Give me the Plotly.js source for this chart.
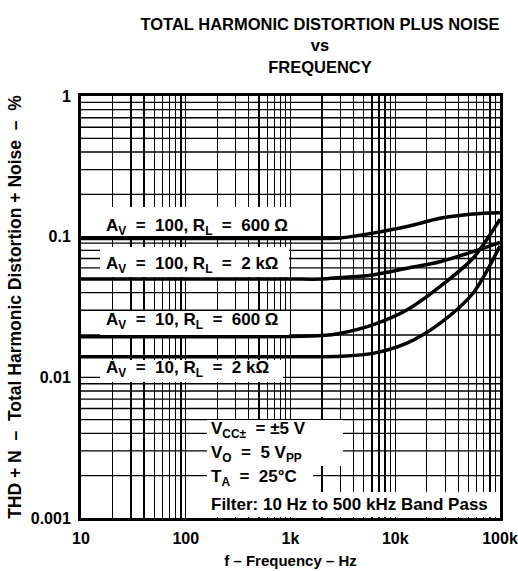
<!DOCTYPE html>
<html>
<head>
<meta charset="utf-8">
<script src="https://cdn.plot.ly/plotly-3.0.1.min.js"></script>
<style>html,body{margin:0;padding:0;background:#fff;}</style>
</head>
<body>
<div id="chart" style="width:518px;height:571px;"></div>
<script>
// Frequency (Hz)
const freq = [10, 100, 1000, 2000, 3000, 6100, 12900, 26700, 55200, 100000];
// THD+N (%) for each condition
const av100_rl600 = [0.097, 0.097, 0.097, 0.097, 0.098, 0.106, 0.118, 0.135, 0.145, 0.148];
const av100_rl2k  = [0.050, 0.050, 0.050, 0.050, 0.0512, 0.0534, 0.0596, 0.0664, 0.0782, 0.091];
const av10_rl600  = [0.0194, 0.0194, 0.0195, 0.0198, 0.0206, 0.0236, 0.0301, 0.0441, 0.0702, 0.133];
const av10_rl2k   = [0.0140, 0.0140, 0.0140, 0.0140, 0.0141, 0.0148, 0.0175, 0.0242, 0.0396, 0.086];

const seriesNames = ['AV = 100, RL = 600 Ω', 'AV = 100, RL = 2 kΩ', 'AV = 10, RL = 600 Ω', 'AV = 10, RL = 2 kΩ'];
const seriesValues = [av100_rl600, av100_rl2k, av10_rl600, av10_rl2k];

// Grid / tick positions (every 1..9 of each decade), labels only at decades
const xTickVals = [10, 20, 30, 40, 50, 60, 70, 80, 90,
  100, 200, 300, 400, 500, 600, 700, 800, 900,
  1000, 2000, 3000, 4000, 5000, 6000, 7000, 8000, 9000,
  10000, 20000, 30000, 40000, 50000, 60000, 70000, 80000, 90000, 100000];
const xTickText = ['10', '', '', '', '', '', '', '', '',
  '100', '', '', '', '', '', '', '', '',
  '1k', '', '', '', '', '', '', '', '',
  '10k', '', '', '', '', '', '', '', '', '100k'];
const yTickVals = [0.001, 0.01, 0.1, 1];
const yTickText = ['0.001', '0.01', '0.1', '1'];
const yGridVals = [0.002, 0.003, 0.004, 0.005, 0.006, 0.007, 0.008, 0.009,
  0.01, 0.02, 0.03, 0.04, 0.05, 0.06, 0.07, 0.08, 0.09,
  0.1, 0.2, 0.3, 0.4, 0.5, 0.6, 0.7, 0.8, 0.9];

const FONT = 'Liberation Sans, Arial, Helvetica, sans-serif';
const NB = '\u00a0';

// plot area in pixels (for placing text boxes)
const PL = 81, PR = 500, PT = 96, PB = 518;
const px = v => (v - PL) / (PR - PL);
const py = v => (PB - v) / (PB - PT);

const traces = seriesValues.map((vals, i) => ({
  x: freq, y: vals, type: 'scatter', mode: 'lines', name: seriesNames[i],
  line: {color: '#000', width: 3.5, shape: 'spline', smoothing: 0.8},
  showlegend: false, hoverinfo: 'skip'
}));

function lbl(text, x, y) {
  return {text: text, xref: 'paper', yref: 'paper', x: px(x), y: py(y), xanchor: 'left', yanchor: 'middle',
    showarrow: false, font: {family: FONT, size: 17, color: '#000', weight: 'bold'}, borderpad: 0};
}
// white background box hiding the grid behind a label
function box(x0, x1, y0, y1) {
  return {text: NB, xref: 'paper', yref: 'paper', x: px(x0), y: py(y0), xanchor: 'left', yanchor: 'top',
    width: x1 - x0, height: y1 - y0, bgcolor: '#fff', borderpad: 0, borderwidth: 0,
    showarrow: false, font: {size: 8, color: '#fff'}};
}

// horizontal grid lines, placed through the y axis scale
const gridShapes = yGridVals.map(v => ({
  type: 'line', xref: 'paper', x0: 0, x1: 1, yref: 'y', y0: v, y1: v,
  line: {color: '#000', width: 1.35}, layer: 'below'
}));

const eq = NB + NB + '=' + NB + NB;
const dash = NB + NB + '–' + NB + NB;
const dash1 = NB + '–' + NB;

const layout = {
  width: 518, height: 571,
  margin: {l: 81, r: 18, t: 96, b: 53},
  paper_bgcolor: '#fff', plot_bgcolor: 'rgba(0,0,0,0)',
  font: {family: FONT, color: '#000'},
  title: {
    text: 'TOTAL HARMONIC DISTORTION PLUS NOISE<br>vs<br>FREQUENCY',
    x: 320 / 518, xanchor: 'center', xref: 'container',
    y: 1 - 30 / 571, yanchor: 'top', yref: 'container',
    font: {family: FONT, size: 16.5, color: '#000', weight: 'bold'}
  },
  xaxis: {
    type: 'log', range: [1, 5], tickmode: 'array', tickvals: xTickVals, ticktext: xTickText,
    showgrid: true, gridcolor: '#000', gridwidth: 1.35,
    showline: true, mirror: true, linecolor: '#000', linewidth: 3,
    ticks: '', zeroline: false, ticklabelstandoff: 4,
    tickfont: {family: FONT, size: 16, color: '#000', weight: 'bold'},
    title: {text: 'f' + dash1 + 'Frequency' + dash1 + 'Hz', standoff: 10,
      font: {family: FONT, size: 15, color: '#000', weight: 'bold'}}
  },
  yaxis: {
    type: 'log', range: [-3, 0], tickmode: 'array', tickvals: yTickVals, ticktext: yTickText,
    showgrid: false,
    showline: true, mirror: true, linecolor: '#000', linewidth: 3,
    ticks: '', zeroline: false, ticklabelstandoff: 4,
    tickfont: {family: FONT, size: 16, color: '#000', weight: 'bold'},
    title: {text: 'THD + N' + dash + 'Total Harmonic Distortion + Noise' + dash + '%', standoff: 5,
      font: {family: FONT, size: 17.5, color: '#000', weight: 'bold'}}
  },
  shapes: gridShapes,
  annotations: [
    box(83, 300, 207, 235.5),
    box(100, 289, 247, 277),
    box(100, 289, 311, 334.5),
    box(100, 283, 359.5, 381),
    box(207, 343, 420, 441),
    box(207, 343, 441, 466),
    box(207, 313, 463, 492),
    box(207, 498, 492, 516.5),
    lbl('A<sub>V</sub>' + eq + '100, R<sub>L</sub>' + eq + '600 Ω', 105, 226.5),
    lbl('A<sub>V</sub>' + eq + '100, R<sub>L</sub>' + eq + '2 kΩ', 105, 264.5),
    lbl('A<sub>V</sub>' + eq + '10, R<sub>L</sub>' + eq + '600 Ω', 105, 321),
    lbl('A<sub>V</sub>' + eq + '10, R<sub>L</sub>' + eq + '2 kΩ', 105, 369.3),
    lbl('V<sub>CC±</sub>' + NB + NB + '= ±5 V', 210, 430),
    lbl('V<sub>O</sub>' + eq + '5 V<sub>PP</sub>', 210, 453.5),
    lbl('T<sub>A</sub>' + eq + '25°C', 210, 477.5),
    lbl('Filter: 10 Hz to 500 kHz Band Pass', 210, 504.5)
  ]
};

Plotly.newPlot('chart', traces, layout, {displayModeBar: false, staticPlot: true});
</script>
</body>
</html>
